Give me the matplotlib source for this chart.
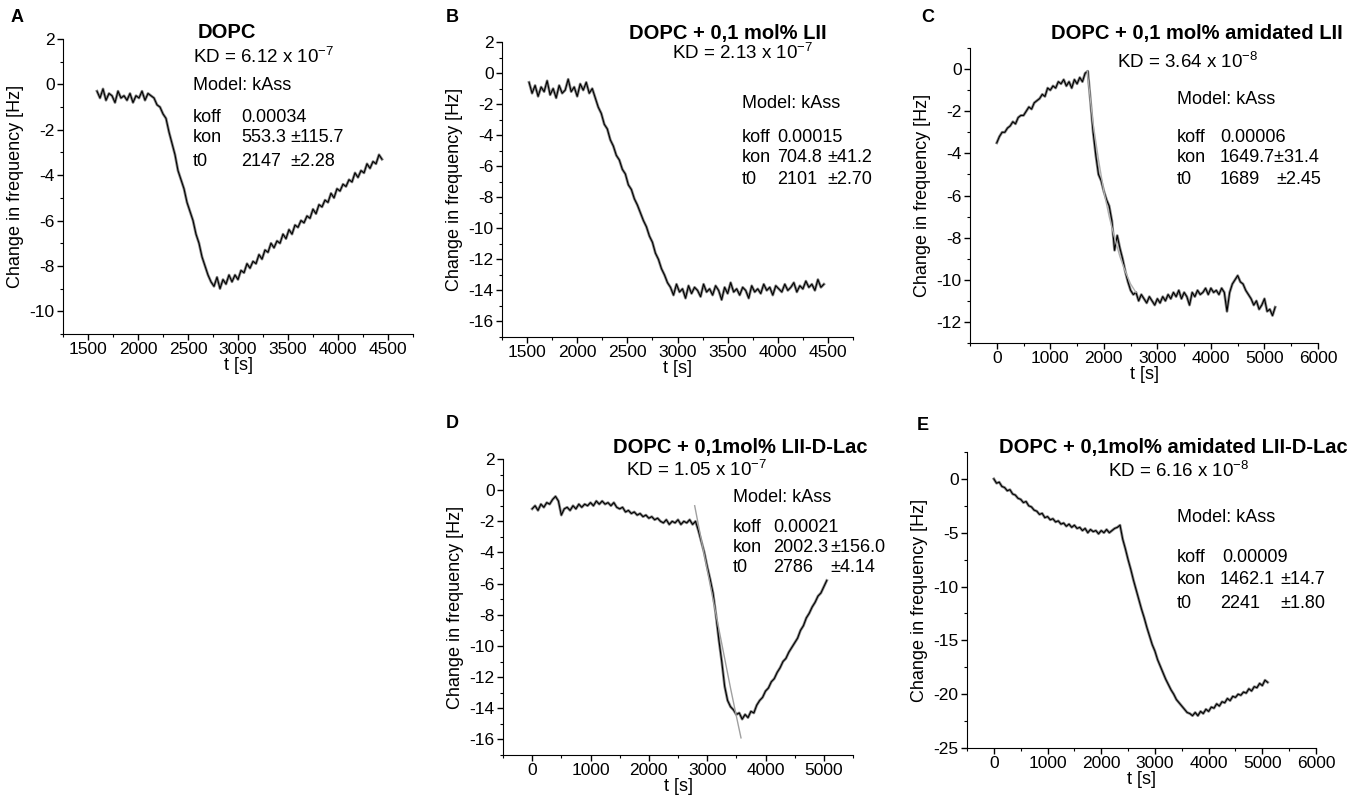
import numpy as np
import matplotlib
matplotlib.use("Agg")
import matplotlib.pyplot as plt
from matplotlib.ticker import MultipleLocator

plt.rcParams['font.family'] = ['Liberation Sans', 'DejaVu Sans']
plt.rcParams['axes.unicode_minus'] = False
plt.rcParams['mathtext.fontset'] = 'custom'
plt.rcParams['mathtext.rm'] = 'Liberation Sans'

# ---- data (t in s, frequency change in Hz) ----
# panel A: DOPC, sampled every 30 s from 1590 s
a_start, a_step = 1590, 30
a_freq = [-0.3, -0.6, -0.2, -0.7, -0.4, -0.5, -0.8, -0.3, -0.6, -0.5,
          -0.7, -0.4, -0.8, -0.5, -0.6, -0.3, -0.7, -0.4, -0.5,
          -0.6, -0.9, -1.0, -1.3, -1.5, -2.1, -2.6, -3.1, -3.8, -4.2,
          -4.6, -5.2, -5.6, -6.0, -6.6, -7.0, -7.6, -8.0, -8.4,
          -8.7, -8.9, -8.5, -9.0, -8.6, -8.8, -8.4, -8.7,
          -8.4, -8.6, -8.2, -8.3, -7.9, -8.1, -7.8, -7.9, -7.5, -7.7,
          -7.3, -7.4, -7.0, -7.2, -6.9, -7.0, -6.6, -6.8, -6.4, -6.6,
          -6.2, -6.3, -6.0, -6.1, -5.8, -5.9, -5.5, -5.7, -5.3, -5.4,
          -5.1, -5.2, -4.8, -5.0, -4.6, -4.7, -4.4, -4.5, -4.2, -4.3,
          -3.9, -4.1, -3.8, -3.9, -3.5, -3.7, -3.4, -3.5, -3.1, -3.3]

# panel B: DOPC + 0,1 mol% LII, every 30 s from 1520 s
b_start, b_step = 1520, 30
b_freq = [-0.6, -1.3, -0.8, -1.5, -0.9, -1.2, -0.5, -1.4, -1.0, -1.6,
          -0.8, -1.3, -1.1, -0.4, -1.2, -0.9, -1.5, -0.7, -1.1, -0.6,
          -1.3, -1.0,
          -1.6, -2.2, -2.6, -3.3, -3.6, -4.3, -4.7, -5.3, -5.6, -6.2,
          -6.5, -7.2, -7.5, -8.1, -8.5, -9.0, -9.5, -9.9, -10.5, -10.9,
          -11.6, -12.0, -12.6, -13.0, -13.5,
          -13.8, -14.3, -13.6, -14.1, -13.9, -14.5, -13.7, -14.2, -13.8, -14.0,
          -14.4, -13.6, -14.1, -13.9, -14.3, -13.7, -14.0, -14.6, -13.8, -14.2,
          -13.5, -14.1, -13.9, -14.3, -13.8, -14.0, -14.5, -13.7, -14.1, -13.9,
          -14.2, -13.6, -14.0, -13.8, -14.3, -13.7, -13.9, -14.1, -13.6, -14.0,
          -13.8, -13.5, -14.1, -13.7, -13.9, -13.4, -13.8, -13.6, -14.0, -13.3,
          -13.8, -13.6]

# panel C: DOPC + 0,1 mol% amidated LII, every 50 s from 0 s
c_start, c_step = 0, 50
c_freq = [-3.5, -3.2, -3.0, -3.0, -2.8, -2.7, -2.5, -2.6, -2.3, -2.2,
          -2.2, -2.0, -1.8, -1.9, -1.6, -1.5, -1.4, -1.2, -1.3, -0.9,
          -1.0, -0.8, -0.9, -0.6, -0.7, -0.5, -0.8, -0.6, -0.9, -0.5,
          -0.7, -0.4, -0.6, -0.2, -0.1,
          -1.5, -3.0, -4.1, -5.0, -5.3, -5.8, -6.2, -6.5, -7.2, -8.6,
          -7.9, -8.5, -9.0, -9.6, -10.1, -10.5, -10.7,
          -10.6, -11.0, -10.7, -10.9, -11.1, -10.8, -11.0, -11.2, -10.9, -11.1,
          -10.8, -11.0, -10.7, -10.9, -10.6, -10.8, -10.5, -10.9, -10.6, -10.8,
          -11.2, -10.6, -10.8, -10.5, -10.7, -10.6, -10.4, -10.7, -10.4, -10.6,
          -10.5, -10.7, -10.4, -10.6, -11.5, -10.6, -10.2, -10.0, -9.8, -10.1,
          -10.2, -10.5, -10.7, -10.9, -11.2, -11.0, -11.4, -11.2, -10.9, -11.5,
          -11.4, -11.7, -11.3]
c_fit_t = [1689, 1800, 1900, 2000, 2100, 2200, 2300, 2400, 2500, 2600]
c_fit = [-0.1, -2.6, -4.3, -5.8, -7.0, -8.0, -8.9, -9.6, -10.2, -10.6]

# panel D: DOPC + 0,1mol% LII-D-Lac, every 50 s from 0 s
d_start, d_step = 0, 50
d_freq = [-1.2, -1.0, -1.3, -0.9, -1.1, -0.8, -0.9, -0.6, -0.4, -0.7,
          -1.6, -1.2, -1.1, -1.3, -1.0, -1.2, -0.9,
          -1.1, -0.9, -1.0, -0.8, -1.0, -0.7, -0.9, -0.7, -0.9, -0.8,
          -1.0, -0.8, -1.1, -1.2, -1.1, -1.4, -1.3, -1.5, -1.4, -1.6,
          -1.5, -1.7, -1.6, -1.8, -1.7, -1.9, -1.8, -2.0, -2.1, -1.9,
          -2.2, -2.0, -2.1, -1.9, -2.2, -2.0, -2.1, -1.9, -2.2, -2.0,
          -2.6, -3.3, -4.0, -4.9, -5.7, -6.6, -8.0, -9.6, -11.0, -12.6,
          -13.5, -13.9, -14.1, -14.4, -14.3, -14.7,
          -14.4, -14.6, -14.2, -14.3, -13.8, -13.5, -13.3, -12.9, -12.7, -12.3,
          -12.1, -11.7, -11.4, -11.0, -10.8, -10.4, -10.1, -9.8, -9.5, -9.0,
          -8.7, -8.2, -7.9, -7.5, -7.2, -6.8, -6.6, -6.2, -5.8]
d_fit_t = [2786, 2900, 3000, 3100, 3200, 3300, 3400, 3500, 3580]
d_fit = [-1.0, -3.2, -5.1, -7.0, -8.9, -10.8, -12.7, -14.5, -15.9]

# panel E: DOPC + 0,1mol% amidated LII-D-Lac, every 50 s from 0 s
e_start, e_step = 0, 50
e_freq = [0.0, -0.4, -0.3, -0.7, -0.8, -1.1, -1.0, -1.4, -1.5, -1.8,
          -1.9, -2.2, -2.1, -2.5, -2.6, -2.9, -3.0, -3.3, -3.2, -3.6,
          -3.5, -3.8, -3.7, -4.0, -3.9, -4.2, -4.1, -4.4, -4.2, -4.5,
          -4.3, -4.6, -4.5, -4.8, -4.6, -5.0, -4.7, -4.9, -4.8, -5.1,
          -4.8, -5.0, -4.7, -5.0, -4.8, -4.6, -4.5,
          -4.3, -5.6, -6.5, -7.5, -8.4, -9.4, -10.3, -11.2, -12.1, -12.9,
          -13.8, -14.6, -15.4, -16.0, -16.8, -17.4, -18.0, -18.6, -19.1, -19.6,
          -20.0, -20.5, -20.8, -21.1, -21.4, -21.7, -21.8, -22.0,
          -21.7, -22.0, -21.6, -21.8, -21.4, -21.6, -21.2, -21.3, -20.9, -21.1,
          -20.7, -20.8, -20.4, -20.6, -20.2, -20.3, -20.0, -20.1, -19.8, -19.9,
          -19.5, -19.7, -19.3, -19.4, -19.0, -19.2, -18.7, -18.9]

W, H = 1363, 800
fig = plt.figure(figsize=(W / 100, H / 100), dpi=100)


def add_ax(left, top, right, bottom):
    return fig.add_axes([left / W, 1 - bottom / H, (right - left) / W, (bottom - top) / H])


def txt(x, y, s, **kw):
    kw.setdefault('fontsize', 13)
    kw.setdefault('va', 'center')
    fig.text(x / W, 1 - y / H, s, **kw)


def style(ax, xlim, ylim, xmaj, xmin, ymaj, ymin):
    ax.set_xlim(*xlim)
    ax.set_ylim(*ylim)
    ax.spines['top'].set_visible(False)
    ax.spines['right'].set_visible(False)
    ax.xaxis.set_major_locator(MultipleLocator(xmaj))
    ax.xaxis.set_minor_locator(MultipleLocator(xmin))
    ax.yaxis.set_major_locator(MultipleLocator(ymaj))
    ax.yaxis.set_minor_locator(MultipleLocator(ymin))
    ax.tick_params(which='major', direction='out', length=4, width=1, labelsize=12.5, pad=2)
    ax.tick_params(which='minor', direction='out', length=2.5, width=0.8)
    ax.set_xlabel('t [s]', fontsize=13, labelpad=0)
    ax.set_ylabel('Change in frequency [Hz]', fontsize=13, labelpad=4)


def trace(ax, start, step, values):
    t = start + step * np.arange(len(values))
    ax.plot(t, values, color='#8a8a8a', lw=2.0, zorder=2)
    ax.plot(t, values, color='black', lw=0.8, zorder=3)


# panel A
axA = add_ax(63, 39, 413, 334)
trace(axA, a_start, a_step, a_freq)
style(axA, (1250, 4750), (-11, 2), 500, 250, 2, 1)
axA.set_yticks([2, 0, -2, -4, -6, -8, -10])

# panel B
axB = add_ax(502, 42, 853, 337)
trace(axB, b_start, b_step, b_freq)
style(axB, (1250, 4750), (-17, 2), 500, 250, 2, 1)
axB.set_yticks(list(range(2, -17, -2)))

# panel C
axC = add_ax(970, 48, 1318, 343)
axC.plot(c_fit_t, c_fit, color='#b0b0b0', lw=1.0, zorder=4)
trace(axC, c_start, c_step, c_freq)
style(axC, (-500, 6000), (-13, 1), 1000, 500, 2, 1)
axC.set_yticks(list(range(0, -13, -2)))

# panel D
axD = add_ax(503, 459, 853, 755)
trace(axD, d_start, d_step, d_freq)
axD.plot(d_fit_t, d_fit, color='#a0a0a0', lw=1.0, zorder=4)
style(axD, (-500, 5500), (-17, 2), 1000, 500, 2, 1)
axD.set_yticks(list(range(2, -17, -2)))

# panel E
axE = add_ax(967, 452, 1316, 748)
trace(axE, e_start, e_step, e_freq)
style(axE, (-500, 6000), (-25, 2.5), 1000, 500, 5, 2.5)
axE.set_yticks([0, -5, -10, -15, -20, -25])

# panel letters
for x, y, s in [(17, 18, 'A'), (452, 18, 'B'), (928, 18, 'C'), (452, 423, 'D'), (923, 425, 'E')]:
    txt(x, y, s, fontsize=13, fontweight='bold', ha='center')

# panel A annotations
txt(227, 32, 'DOPC', fontsize=14.5, fontweight='bold', ha='center')
txt(193, 57, 'KD = 6.12 x 10$^{-7}$', fontsize=13.5)
txt(193, 85, 'Model: kAss')
txt(193, 118, 'koff'); txt(241, 118, '0.00034')
txt(193, 138, 'kon'); txt(241, 138, '553.3'); txt(290, 138, '\u00b1115.7')
txt(193, 161, 't0'); txt(241, 161, '2147'); txt(290, 161, '\u00b12.28')

# panel B annotations
txt(728, 33, 'DOPC + 0,1 mol% LII', fontsize=14.5, fontweight='bold', ha='center')
txt(672, 53, 'KD = 2.13 x 10$^{-7}$', fontsize=13.5)
txt(742, 103, 'Model: kAss')
txt(742, 137, 'koff'); txt(777, 137, '0.00015')
txt(742, 158, 'kon'); txt(777, 158, '704.8'); txt(827, 158, '\u00b141.2')
txt(742, 180, 't0'); txt(777, 180, '2101'); txt(827, 180, '\u00b12.70')

# panel C annotations
txt(1197, 33, 'DOPC + 0,1 mol% amidated LII', fontsize=14.5, fontweight='bold', ha='center')
txt(1117, 62, 'KD = 3.64 x 10$^{-8}$', fontsize=13.5)
txt(1177, 100, 'Model: kAss')
txt(1177, 137, 'koff'); txt(1220, 137, '0.00006')
txt(1177, 158, 'kon'); txt(1220, 158, '1649.7\u00b131.4')
txt(1177, 180, 't0'); txt(1220, 180, '1689'); txt(1276, 180, '\u00b12.45')

# panel D annotations
txt(740, 447, 'DOPC + 0,1mol% LII-D-Lac', fontsize=14.5, fontweight='bold', ha='center')
txt(626, 470, 'KD = 1.05 x 10$^{-7}$', fontsize=13.5)
txt(733, 497, 'Model: kAss')
txt(733, 527, 'koff'); txt(773, 527, '0.00021')
txt(733, 548, 'kon'); txt(773, 548, '2002.3'); txt(830, 548, '\u00b1156.0')
txt(733, 568, 't0'); txt(773, 568, '2786'); txt(830, 568, '\u00b14.14')

# panel E annotations
txt(1173, 447, 'DOPC + 0,1mol% amidated LII-D-Lac', fontsize=14.5, fontweight='bold', ha='center')
txt(1108, 471, 'KD = 6.16 x 10$^{-8}$', fontsize=13.5)
txt(1177, 517, 'Model: kAss')
txt(1177, 558, 'koff'); txt(1222, 558, '0.00009')
txt(1177, 580, 'kon'); txt(1220, 580, '1462.1'); txt(1280, 580, '\u00b114.7')
txt(1177, 603, 't0'); txt(1220, 603, '2241'); txt(1280, 603, '\u00b11.80')

fig.savefig('out.png', dpi=100)
